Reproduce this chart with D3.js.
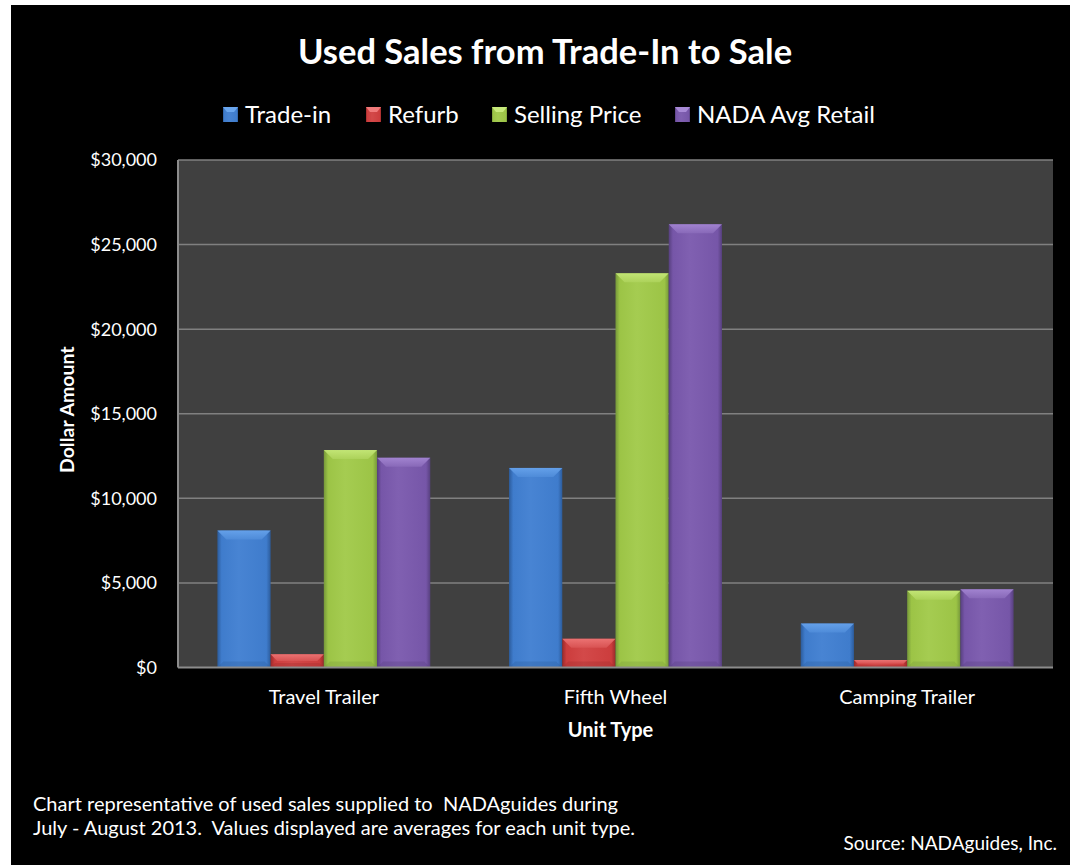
<!DOCTYPE html>
<html>
<head>
<meta charset="utf-8">
<script src="https://cdn.jsdelivr.net/npm/d3@7"></script>
<style>
  body { margin: 0; background: #fff; }
  svg text { font-family: Lato, "Open Sans", sans-serif; fill: #fff; }
</style>
</head>
<body>
<div id="chart"></div>
<script>
var categories = ["Travel Trailer", "Fifth Wheel", "Camping Trailer"];
var series = ["Trade-in", "Refurb", "Selling Price", "NADA Avg Retail"];
var tradeIn = [8100, 11800, 2600];
var refurb = [780, 1700, 440];
var sellingPrice = [12850, 23300, 4540];
var nadaRetail = [12400, 26200, 4620];
var yTicks = [0, 5000, 10000, 15000, 20000, 25000, 30000];

var colors = {
  "Trade-in":        {base: "#3f7ccc", light: "#6aa6ee", dark: "#2c5c9c"},
  "Refurb":          {base: "#cc3d3d", light: "#f07a7a", dark: "#9a2a2a"},
  "Selling Price":   {base: "#9cc446", light: "#c8ea7c", dark: "#76983a"},
  "NADA Avg Retail": {base: "#7656a8", light: "#a88ad6", dark: "#57407f"}
};

var values = [tradeIn, refurb, sellingPrice, nadaRetail];
var data = categories.map(function(c, i) {
  return {cat: c, vals: series.map(function(s, j) { return {key: s, value: values[j][i]}; })};
});

var W = 1070, H = 865;
var margin = {top: 160, right: 17, bottom: 197.5, left: 178};
var width = W - margin.left - margin.right,
    height = H - margin.top - margin.bottom;

var svg = d3.select("#chart").append("svg")
    .attr("width", W)
    .attr("height", H);

// black card with a thin white border top/left
svg.append("rect")
    .attr("x", 11).attr("y", 5)
    .attr("width", W - 11).attr("height", H - 5)
    .attr("fill", "#000");

var defs = svg.append("defs");
series.forEach(function(s, i) {
  var c = colors[s];
  var g = defs.append("linearGradient")
      .attr("id", "grad" + i)
      .attr("x1", "0").attr("x2", "1").attr("y1", "0").attr("y2", "0");
  g.append("stop").attr("offset", "0%").attr("stop-color", c.dark);
  g.append("stop").attr("offset", "8%").attr("stop-color", c.base);
  g.append("stop").attr("offset", "40%").attr("stop-color", d3.interpolateRgb(c.base, c.light)(0.2));
  g.append("stop").attr("offset", "92%").attr("stop-color", c.base);
  g.append("stop").attr("offset", "100%").attr("stop-color", c.dark);
  var t = defs.append("linearGradient")
      .attr("id", "top" + i)
      .attr("x1", "0").attr("x2", "0").attr("y1", "0").attr("y2", "1");
  t.append("stop").attr("offset", "0%").attr("stop-color", c.light);
  t.append("stop").attr("offset", "100%").attr("stop-color", d3.interpolateRgb(c.base, c.light)(0.4));
});

var chart = svg.append("g")
    .attr("transform", "translate(" + margin.left + "," + margin.top + ")");

chart.append("rect")
    .attr("width", width)
    .attr("height", height)
    .attr("fill", "#404040");

var x0 = d3.scaleBand()
    .domain(categories)
    .range([0, width])
    .padding(0);

var x1 = d3.scaleBand()
    .domain(series)
    .range([0, x0.bandwidth()])
    .paddingInner(0)
    .paddingOuter(0.74);

var y = d3.scaleLinear()
    .domain([0, 30000])
    .range([height, 0]);

// gridlines
chart.append("g")
    .selectAll("line")
    .data(yTicks.filter(function(d) { return d > 0; }))
    .enter()
    .append("line")
    .attr("x1", 0).attr("x2", width)
    .attr("y1", function(d) { return y(d); })
    .attr("y2", function(d) { return y(d); })
    .attr("stroke", "#808080")
    .attr("stroke-width", 1.5);

// bars
var groups = chart.append("g")
    .selectAll("g")
    .data(data)
    .enter()
    .append("g")
    .attr("transform", function(d) { return "translate(" + x0(d.cat) + ",0)"; });

var bars = groups.selectAll("g.bar")
    .data(function(d) { return d.vals; })
    .enter()
    .append("g")
    .attr("class", "bar");

bars.append("rect")
    .attr("x", function(d) { return x1(d.key); })
    .attr("y", function(d) { return y(d.value); })
    .attr("width", x1.bandwidth())
    .attr("height", function(d) { return height - y(d.value); })
    .attr("fill", function(d) { return "url(#grad" + series.indexOf(d.key) + ")"; });

// top bevel
bars.append("path")
    .attr("d", function(d) {
      var bx = x1(d.key), bw = x1.bandwidth(), by = y(d.value);
      var bh = Math.min(9, (height - by) / 2);
      return "M" + bx + "," + by + "L" + (bx + bw) + "," + by +
             "L" + (bx + bw - bh) + "," + (by + bh) + "L" + (bx + bh) + "," + (by + bh) + "Z";
    })
    .attr("fill", function(d) { return "url(#top" + series.indexOf(d.key) + ")"; })
    .attr("opacity", 0.85);

// bottom bevel shade
bars.append("path")
    .attr("d", function(d) {
      var bx = x1(d.key), bw = x1.bandwidth(), by = y(d.value);
      var bh = Math.min(6, (height - by) / 3);
      return "M" + bx + "," + height + "L" + (bx + bw) + "," + height +
             "L" + (bx + bw - bh) + "," + (height - bh) + "L" + (bx + bh) + "," + (height - bh) + "Z";
    })
    .attr("fill", function(d) { return colors[d.key].dark; })
    .attr("opacity", 0.3);

// axes lines
chart.append("line")
    .attr("x1", 0).attr("x2", 0).attr("y1", 0).attr("y2", height)
    .attr("stroke", "#8c8c8c").attr("stroke-width", 2);
chart.append("line")
    .attr("x1", 0).attr("x2", width).attr("y1", height).attr("y2", height)
    .attr("stroke", "#8c8c8c").attr("stroke-width", 2);

// y tick labels
var fmt = d3.format("$,");
chart.append("g")
    .selectAll("text")
    .data(yTicks)
    .enter()
    .append("text")
    .attr("x", -21)
    .attr("y", function(d) { return y(d); })
    .attr("dy", "0.36em")
    .attr("text-anchor", "end")
    .style("font-size", "18px")
    .text(function(d) { return fmt(d); });

// x category labels
chart.append("g")
    .selectAll("text")
    .data(categories)
    .enter()
    .append("text")
    .attr("x", function(d) { return x0(d) + x0.bandwidth() / 2; })
    .attr("y", height + 36)
    .attr("text-anchor", "middle")
    .style("font-size", "20px")
    .text(function(d) { return d; });

// axis titles
svg.append("text")
    .attr("x", margin.left + width / 2 - 5)
    .attr("y", 737)
    .attr("text-anchor", "middle")
    .style("font-size", "20px")
    .style("font-weight", "bold")
    .text("Unit Type");

svg.append("text")
    .attr("transform", "translate(74," + (margin.top + height / 2 - 4) + ") rotate(-90)")
    .attr("text-anchor", "middle")
    .style("font-size", "19.5px")
    .style("font-weight", "bold")
    .text("Dollar Amount");

// title
svg.append("text")
    .attr("x", 545)
    .attr("y", 64)
    .attr("text-anchor", "middle")
    .style("font-size", "34.5px")
    .style("font-weight", "bold")
    .text("Used Sales from Trade-In to Sale");

// legend
var legendX = [223, 366, 492, 675];
var legend = svg.append("g")
    .selectAll("g")
    .data(series)
    .enter()
    .append("g")
    .attr("transform", function(d, i) { return "translate(" + legendX[i] + ",107)"; });

legend.append("rect")
    .attr("width", 15).attr("height", 15)
    .attr("fill", function(d, i) { return "url(#grad" + i + ")"; });
legend.append("path")
    .attr("d", "M0,0L15,0L11,5L4,5Z")
    .attr("fill", function(d) { return colors[d].light; });
legend.append("text")
    .attr("x", 22)
    .attr("y", 16)
    .style("font-size", "24px")
    .text(function(d) { return d; });

// footnotes
var notes = ["Chart representative of used sales supplied to  NADAguides during",
             "July - August 2013.  Values displayed are averages for each unit type."];
svg.append("g")
    .selectAll("text")
    .data(notes)
    .enter()
    .append("text")
    .attr("x", 33)
    .attr("y", function(d, i) { return 811 + i * 24; })
    .style("font-size", "20px")
    .style("white-space", "pre")
    .text(function(d) { return d; });

svg.append("text")
    .attr("x", 1057)
    .attr("y", 850)
    .attr("text-anchor", "end")
    .style("font-size", "19px")
    .text("Source: NADAguides, Inc.");
</script>
</body>
</html>
